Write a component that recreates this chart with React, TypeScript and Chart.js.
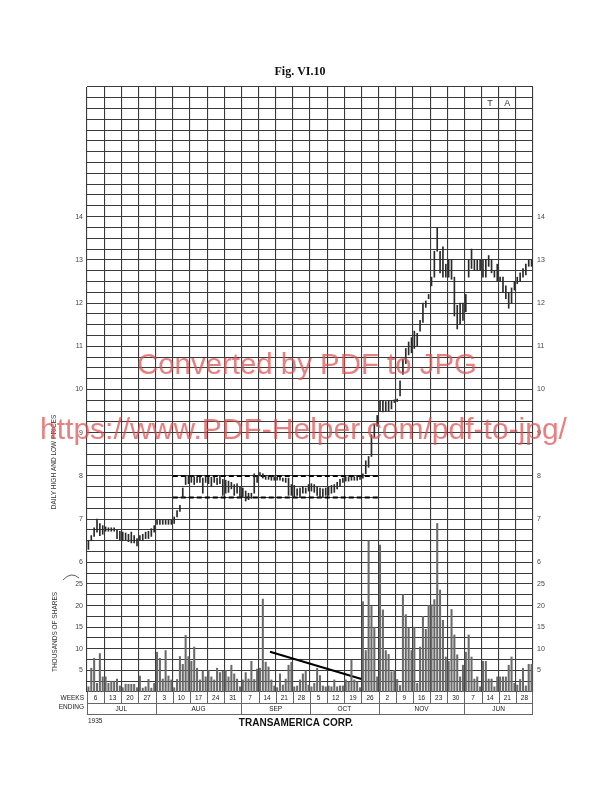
import React, { useEffect, useRef } from 'react';
import { Chart, registerables } from 'chart.js';

Chart.register(...registerables);

// ---------- data ----------
const weekLabels = ['6', '13', '20', '27', '3', '10', '17', '24', '31', '7', '14', '21', '28', '5', '12', '19', '26', '2', '9', '16', '23', '30', '7', '14', '21', '28'];
const monthLabels = ['JUL', 'AUG', 'SEP', 'OCT', 'NOV', 'JUN'];
const monthWeeks = [4, 5, 4, 4, 5, 4];
const DAYS_PER_WEEK = 6;

const priceTicks = [6, 7, 8, 9, 10, 11, 12, 13, 14];
const volumeTicks = [5, 10, 15, 20, 25];

// daily lows (6 trading days per week)
const lows = [
  6.3, 6.5, 6.6, 6.7, 6.62, 6.65,
  6.72, 6.72, 6.72, 6.72, 6.55, 6.5,
  6.5, 6.52, 6.48, 6.45, 6.45, 6.38,
  6.5, 6.5, 6.55, 6.55, 6.6, 6.7,
  6.88, 6.88, 6.88, 6.88, 6.88, 6.88,
  6.9, 7.05, 7.18, 7.5, 7.8, 7.82,
  7.85, 7.8, 7.85, 7.85, 7.6, 7.85,
  7.82, 7.75, 7.85, 7.8, 7.82, 7.55,
  7.6, 7.62, 7.7, 7.55, 7.6, 7.5,
  7.5, 7.42, 7.45, 7.48, 7.6, 7.85,
  8.0, 7.95, 7.92, 7.92, 7.9, 7.9,
  7.9, 7.9, 7.88, 7.85, 7.55, 7.55,
  7.5, 7.55, 7.52, 7.6, 7.6, 7.65,
  7.65, 7.62, 7.55, 7.5, 7.52, 7.55,
  7.55, 7.6, 7.62, 7.7, 7.75, 7.85,
  7.88, 7.88, 7.9, 7.9, 7.9, 7.92,
  7.95, 8.05, 8.2, 8.45, 8.9, 9.15,
  9.5, 9.48, 9.5, 9.5, 9.55, 9.7,
  9.72, 9.85, 10.35, 10.6, 10.8, 10.85,
  10.95, 11.0, 11.35, 11.55, 11.9, 12.1,
  12.4, 12.6, 13.2, 12.7, 12.6, 12.6,
  12.6, 12.55, 11.7, 11.4, 11.5, 11.6,
  11.8, 12.6, 12.8, 12.75, 12.75, 12.75,
  12.6, 12.6, 12.85, 12.7, 12.6, 12.5,
  12.5, 12.25, 12.1, 11.88, 12.0, 12.3,
  12.45, 12.5, 12.6, 12.65, 12.85, 12.85,
];

// daily highs
const highs = [
  6.5, 6.62, 6.8, 7.0, 6.9, 6.85,
  6.82, 6.8, 6.8, 6.8, 6.75, 6.72,
  6.7, 6.68, 6.65, 6.7, 6.62, 6.55,
  6.62, 6.65, 6.7, 6.72, 6.78, 6.85,
  6.98, 6.98, 6.98, 6.98, 6.98, 6.98,
  7.05, 7.2, 7.32, 7.72, 8.0, 8.0,
  8.0, 7.98, 7.98, 7.98, 7.95, 8.0,
  7.98, 7.97, 7.98, 7.95, 8.0, 7.92,
  7.9, 7.88, 7.85, 7.8, 7.82, 7.75,
  7.72, 7.65, 7.6, 7.6, 8.05, 8.0,
  8.08, 8.05, 8.0, 8.0, 8.0, 7.98,
  7.97, 7.97, 7.95, 7.95, 7.95, 7.8,
  7.78, 7.7, 7.72, 7.75, 7.72, 7.8,
  7.82, 7.8, 7.75, 7.72, 7.7, 7.72,
  7.75, 7.78, 7.8, 7.85, 7.92, 7.95,
  7.98, 7.98, 7.98, 7.98, 8.0, 8.0,
  8.05, 8.35, 8.45, 8.95, 9.2, 9.4,
  9.75, 9.75, 9.72, 9.75, 9.75, 9.76,
  9.78, 10.2, 10.7, 10.95, 11.1, 11.2,
  11.35, 11.3, 11.6, 12.0, 12.05, 12.2,
  12.6, 13.2, 13.75, 13.2, 13.3, 12.9,
  13.0, 13.0, 12.6, 11.95, 12.0, 12.0,
  12.2, 13.0, 13.25, 13.0, 13.0, 13.0,
  13.0, 13.0, 13.1, 13.0, 12.75, 12.9,
  12.6, 12.6, 12.4, 12.25, 12.35, 12.5,
  12.6, 12.7, 12.8, 12.9, 13.0, 13.0,
];

// daily volume, thousands of shares
const volumes = [
  1.2, 5.5, 7.8, 2, 8.9, 3.5,
  3.5, 2, 2.5, 2.5, 3, 1.4,
  1, 1.8, 1.8, 1.8, 1.8, 1,
  3.7, 0.9, 1.2, 2.9, 0.9, 2,
  9.2, 7.8, 3, 9.6, 3.7, 2.8,
  1, 2.9, 8.2, 6.4, 13.1, 8.2,
  7.1, 10.4, 5.5, 2.8, 4.9, 3.5,
  5, 3.5, 2.8, 5.5, 4.5, 4.8,
  5, 3.5, 6.2, 4.2, 3, 1.2,
  2.8, 4.5, 3, 7.1, 2.9, 5.3,
  5.5, 21.5, 6.9, 5.8, 2.8, 1.4,
  1, 4.2, 1.6, 3, 6.2, 6.9,
  1.2, 1.4, 2.8, 4.2, 4.9, 1.6,
  1.2, 2, 5.5, 3.8, 1.4, 1.2,
  1.4, 1.2, 2.8, 1.2, 1.4, 1.4,
  2.8, 2.3, 7.4, 2.8, 2.3, 1,
  20.9, 9.6, 35, 19.8, 15, 3.5,
  34, 19, 9.6, 8.7, 4.7, 5,
  2.9, 1.5, 22.5, 17.9, 14.8, 9.6,
  15, 2, 10.4, 17.5, 14.5, 20,
  20.2, 21.4, 39, 23.6, 16.6, 8.1,
  7.1, 19.1, 13.2, 8.6, 3.5, 6.2,
  9.2, 13.2, 8.1, 3, 3.5, 1.2,
  7.1, 7.1, 3, 3, 1.2, 3.5,
  3.5, 3.5, 3.5, 6.2, 8.1, 2,
  1.6, 2.9, 5.5, 1.4, 6.4, 6.4,
];

// trading range (dashed lines) and volume trend line
const rangeHigh = 8.0;
const rangeLow = 7.5;
const rangeStartWeek = 5;
const rangeEndWeek = 17;
const trendDays = [64, 96];
const trendVolumes = [9.3, 3.0];

// axis frames
const PRICE_MIN = 3;
const PRICE_MAX = 17;
const VOL_PER_PRICE = 10; // 1 price point = 10 thousand shares on the lower panel

// ---------- layout ----------
const W = 614;
const H = 800;
const AREA_L = 87;
const AREA_R = 533;
const AREA_T = 87;
const AREA_B = 692;
const AXIS_W = 14;

const SANS = '"Liberation Sans", Arial, sans-serif';

const extrasPlugin = {
  id: 'extras',
  afterDraw(chart: any) {
    const ctx = chart.ctx;
    const xs = chart.scales.x;
    const ys = chart.scales.y;
    const bottom = chart.chartArea.bottom;
    const left = chart.chartArea.left;
    const right = chart.chartArea.right;
    ctx.save();

    // title
    ctx.fillStyle = '#111';
    ctx.font = 'bold 12px "Liberation Serif", "Times New Roman", serif';
    ctx.textAlign = 'center';
    ctx.textBaseline = 'middle';
    ctx.fillText('Fig. VI.10', 300, 72);

    // T A letters
    ctx.font = `9px ${SANS}`;
    ctx.fillStyle = '#333';
    const rowY = ys.getPixelForValue(16.625);
    ctx.fillText('T', xs.getPixelForValue(23.5 * DAYS_PER_WEEK), rowY);
    ctx.fillText('A', xs.getPixelForValue(24.5 * DAYS_PER_WEEK), rowY);

    // week / month table
    const rowH = 11;
    const y0 = bottom;
    const y1 = bottom + rowH;
    const y2 = bottom + 2 * rowH;
    ctx.strokeStyle = '#666';
    ctx.lineWidth = 1;
    ctx.beginPath();
    ctx.moveTo(left, y1 + 0.5);
    ctx.lineTo(right, y1 + 0.5);
    ctx.moveTo(left, y2 + 0.5);
    ctx.lineTo(right, y2 + 0.5);
    ctx.moveTo(left + 0.5, y0);
    ctx.lineTo(left + 0.5, y2);
    ctx.moveTo(right - 0.5, y0);
    ctx.lineTo(right - 0.5, y2);
    for (let w = 1; w < weekLabels.length; w++) {
      const px = Math.round(xs.getPixelForValue(w * DAYS_PER_WEEK)) + 0.5;
      ctx.moveTo(px, y0);
      ctx.lineTo(px, y1);
    }
    let acc = 0;
    for (let m = 0; m < monthWeeks.length - 1; m++) {
      acc += monthWeeks[m];
      const px = Math.round(xs.getPixelForValue(acc * DAYS_PER_WEEK)) + 0.5;
      ctx.moveTo(px, y1);
      ctx.lineTo(px, y2);
    }
    ctx.stroke();

    ctx.fillStyle = '#222';
    ctx.font = `6.5px ${SANS}`;
    ctx.textAlign = 'center';
    weekLabels.forEach((lab, w) => {
      ctx.fillText(lab, xs.getPixelForValue((w + 0.5) * DAYS_PER_WEEK), (y0 + y1) / 2 + 0.5);
    });
    acc = 0;
    monthLabels.forEach((lab, m) => {
      const c = acc + monthWeeks[m] / 2;
      acc += monthWeeks[m];
      ctx.fillText(lab, xs.getPixelForValue(c * DAYS_PER_WEEK), (y1 + y2) / 2 + 0.5);
    });

    ctx.textAlign = 'right';
    ctx.font = `6.5px ${SANS}`;
    ctx.fillText('WEEKS', left - 3, (y0 + y1) / 2 + 1);
    ctx.fillText('ENDING', left - 3, (y1 + y2) / 2 - 1);
    ctx.textAlign = 'left';
    ctx.fillText('1935', left + 1, y2 + 7);

    ctx.textAlign = 'center';
    ctx.font = `bold 10px ${SANS}`;
    ctx.fillStyle = '#111';
    ctx.fillText('TRANSAMERICA CORP.', 296, y2 + 9);

    // axis titles
    ctx.fillStyle = '#333';
    ctx.font = `6.5px ${SANS}`;
    ctx.save();
    ctx.translate(54, 462);
    ctx.rotate(-Math.PI / 2);
    ctx.fillText('DAILY HIGH AND LOW PRICES', 0, 0);
    ctx.restore();
    ctx.save();
    ctx.translate(55, 632);
    ctx.rotate(-Math.PI / 2);
    ctx.fillText('THOUSANDS OF SHARES', 0, 0);
    ctx.restore();

    // scale break mark
    ctx.strokeStyle = '#333';
    ctx.lineWidth = 0.8;
    ctx.beginPath();
    ctx.moveTo(63, 580);
    ctx.quadraticCurveTo(71, 571, 79, 578);
    ctx.stroke();

    // watermark
    ctx.fillStyle = 'rgba(222, 80, 80, 0.72)';
    ctx.textAlign = 'center';
    const fit = (text: string, cx: number, cy: number, width: number) => {
      ctx.font = `27px ${SANS}`;
      const m = ctx.measureText(text).width;
      const size = (27 * width) / m;
      ctx.font = `${size.toFixed(2)}px ${SANS}`;
      ctx.fillText(text, cx, cy);
    };
    fit('Converted by PDF to JPG', 307, 366, 340);
    fit('https://www.PDF-Helper.com/pdf-to-jpg/', 303.5, 431, 527);

    ctx.restore();
  },
};

const tickLabel = (value: number) => {
  if (priceTicks.includes(value)) return String(value);
  const vol = Math.round((value - PRICE_MIN) * VOL_PER_PRICE * 100) / 100;
  if (value < priceTicks[0] && volumeTicks.includes(vol)) return String(vol);
  return '';
};

export default function App() {
  const ref = useRef<HTMLCanvasElement | null>(null);

  useEffect(() => {
    if (!ref.current) return;
    const days = lows.map((_, i) => i);
    const priceData = days.map((i) => ({ x: i + 0.5, y: [lows[i], highs[i]] }));
    const volData = days.map((i) => ({ x: i + 0.5, y: volumes[i] }));
    const rs = rangeStartWeek * DAYS_PER_WEEK;
    const re = rangeEndWeek * DAYS_PER_WEEK;

    const gridStyle = { color: '#3a3a3a', lineWidth: 1.1, drawTicks: false };
    const yTicks = {
      stepSize: 0.25,
      autoSkip: false,
      callback: (v: any) => tickLabel(Number(v)),
      font: { size: 7, family: SANS },
      color: '#444',
      padding: 4,
    };

    const chart = new Chart(ref.current, {
      type: 'bar',
      data: {
        datasets: [
          {
            type: 'bar',
            label: 'High-Low',
            data: priceData as any,
            backgroundColor: '#2a2a2a',
            barThickness: 1,
            grouped: false,
            xAxisID: 'x',
            yAxisID: 'y',
          },
          {
            type: 'bar',
            label: 'Volume',
            data: volData as any,
            backgroundColor: '#6a6a6a',
            barThickness: 1.4,
            grouped: false,
            xAxisID: 'x',
            yAxisID: 'yv',
          },
          {
            type: 'line',
            label: 'Range top',
            data: [{ x: rs, y: rangeHigh }, { x: re, y: rangeHigh }],
            borderColor: '#000',
            borderWidth: 2,
            borderDash: [5, 3],
            pointRadius: 0,
            yAxisID: 'y',
          },
          {
            type: 'line',
            label: 'Range bottom',
            data: [{ x: rs, y: rangeLow }, { x: re, y: rangeLow }],
            borderColor: '#000',
            borderWidth: 2,
            borderDash: [5, 3],
            pointRadius: 0,
            yAxisID: 'y',
          },
          {
            type: 'line',
            label: 'Volume trend',
            data: trendDays.map((d, i) => ({ x: d, y: trendVolumes[i] })),
            borderColor: '#000',
            borderWidth: 2,
            pointRadius: 0,
            yAxisID: 'yv',
          },
        ] as any,
      },
      options: {
        responsive: false,
        animation: false,
        events: [],
        layout: {
          padding: {
            left: AREA_L - AXIS_W,
            right: W - AREA_R - AXIS_W,
            top: AREA_T,
            bottom: H - AREA_B,
          },
        },
        plugins: { legend: { display: false }, tooltip: { enabled: false }, title: { display: false } },
        scales: {
          x: {
            type: 'linear',
            min: 0,
            max: weekLabels.length * DAYS_PER_WEEK,
            offset: false,
            grid: { ...gridStyle, offset: false },
            border: { display: false },
            ticks: { display: false, stepSize: DAYS_PER_WEEK, autoSkip: false },
            afterFit: (s: any) => {
              s.height = 0;
            },
          },
          y: {
            type: 'linear',
            position: 'left',
            min: PRICE_MIN,
            max: PRICE_MAX,
            grid: gridStyle,
            border: { display: false },
            ticks: yTicks,
            afterFit: (s: any) => {
              s.width = AXIS_W;
            },
          },
          y2: {
            type: 'linear',
            position: 'right',
            min: PRICE_MIN,
            max: PRICE_MAX,
            grid: { drawOnChartArea: false, drawTicks: false },
            border: { display: false },
            ticks: yTicks,
            afterFit: (s: any) => {
              s.width = AXIS_W;
            },
          },
          yv: {
            type: 'linear',
            display: false,
            min: 0,
            max: (PRICE_MAX - PRICE_MIN) * VOL_PER_PRICE,
          },
        },
      } as any,
      plugins: [extrasPlugin],
    });
    return () => chart.destroy();
  }, []);

  return (
    <canvas
      ref={ref}
      width={W}
      height={H}
      style={{ position: 'fixed', left: 0, top: 0, width: W, height: H, background: '#fff' }}
    />
  );
}
